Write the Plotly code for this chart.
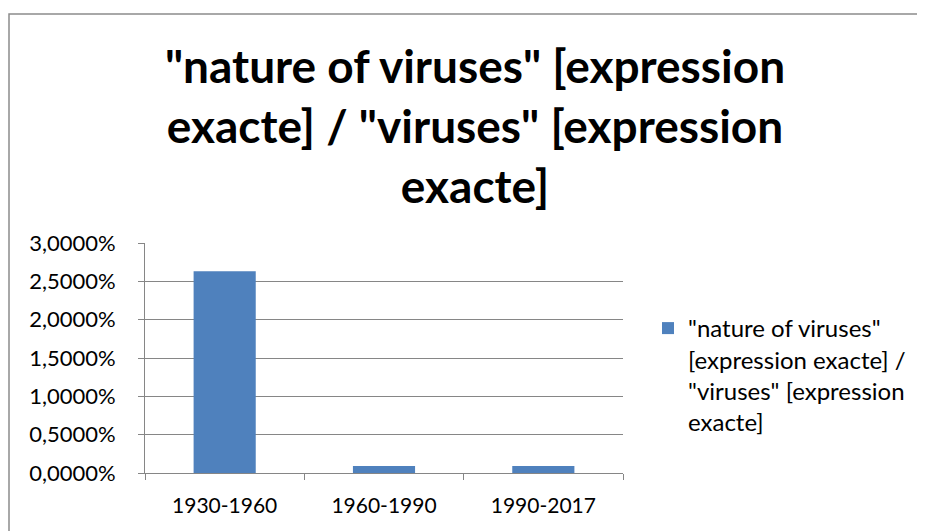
import plotly.graph_objects as go

categories = ["1930-1960", "1960-1990", "1990-2017"]
values = [0.0263, 0.0009, 0.0009]
series_name = '"nature of viruses"<br>[expression exacte] /<br>"viruses" [expression<br>exacte]'
title_text = '"nature of viruses" [expression<br>exacte] / "viruses" [expression<br>exacte]'
y_ticks = [0, 0.005, 0.01, 0.015, 0.02, 0.025, 0.03]

FONT = "Lato, Carlito, Calibri, sans-serif"
OFF = 8  # page body margin
W, H = 925, 531
# target plot area in page pixels: x 145..623, y 243..473
L = 145 - OFF
T = 243 - OFF
pw, ph = 623 - 145, 473 - 243
R = W - L - pw
B = H - T - ph


def px_x(x):
    return (x - 145) / pw


def px_y(y):
    return (473 - y) / ph


fig = go.Figure()
fig.add_trace(go.Bar(
    x=categories, y=values, name=series_name,
    marker=dict(color="#4F81BD", line=dict(width=0)),
    width=0.39, showlegend=True,
))

fig.update_layout(
    width=W, height=H,
    margin=dict(l=L, r=R, t=T, b=B, autoexpand=False),
    paper_bgcolor="white", plot_bgcolor="white",
    separators=", ",
    font=dict(family=FONT, color="#000000", size=21),
    title=dict(text=title_text, x=(475 - OFF) / W, xanchor="center",
               y=1 - (83 - OFF) / H, yanchor="middle",
               font=dict(family=FONT, size=46, color="#000000", weight="bold")),
    showlegend=True,
    legend=dict(x=px_x(648), y=px_y(306), xanchor="left", yanchor="top",
                valign="top",
                font=dict(family=FONT, size=24, color="#000000"),
                itemsizing="constant", bgcolor="rgba(0,0,0,0)", tracegroupgap=0),
    xaxis=dict(showline=True, linecolor="#868686", linewidth=1, ticks="outside",
               tickson="boundaries", ticklen=6, tickcolor="#868686", showgrid=False,
               tickfont=dict(size=21), ticklabelstandoff=14),
    yaxis=dict(range=[0, 0.03], tickvals=y_ticks, tickformat=".4%", showline=True,
               linecolor="#868686", linewidth=1, ticks="outside", ticklen=6,
               tickcolor="#868686", showgrid=True, gridcolor="#868686", gridwidth=1,
               zeroline=False, tickfont=dict(size=22), ticklabelstandoff=18),
    shapes=[dict(type="rect", xref="paper", yref="paper",
                 x0=px_x(9), x1=px_x(945), y0=px_y(560), y1=px_y(14),
                 line=dict(color="#8C8C8C", width=1.5), fillcolor="rgba(0,0,0,0)", layer="below")],
)

fig.write_html("out.html")
